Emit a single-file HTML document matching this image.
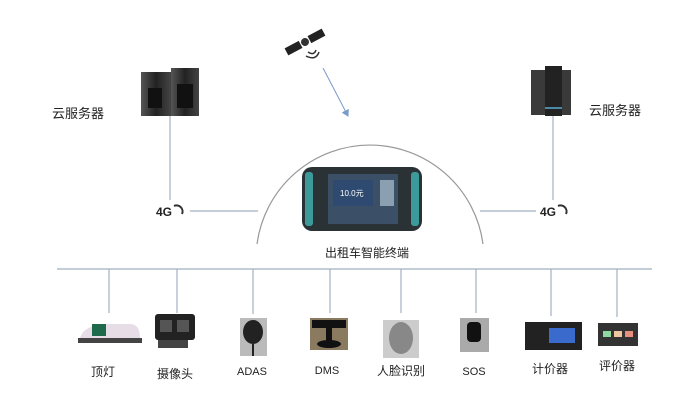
<!DOCTYPE html>
<html><head><meta charset="utf-8"><style>
html,body{margin:0;padding:0;background:#fff;}
svg{display:block;}
text{font-family:"Liberation Sans","Noto Sans CJK SC",sans-serif;fill:#222;}
</style></head><body>
<svg width="677" height="417" viewBox="0 0 677 417" xmlns="http://www.w3.org/2000/svg">
<defs>
<linearGradient id="srv" x1="0" x2="1"><stop offset="0" stop-color="#555"/><stop offset="0.5" stop-color="#222"/><stop offset="1" stop-color="#444"/></linearGradient>
<marker id="ar" markerWidth="8" markerHeight="8" refX="6" refY="4" orient="auto"><path d="M0,0 L7,4 L0,8 z" fill="#7a9cc8"/></marker>
</defs>
<!-- connector lines -->
<g stroke="#9fb0c0" stroke-width="1.2" fill="none">
<line x1="170" y1="116" x2="170" y2="200"/>
<line x1="190" y1="211" x2="258" y2="211"/>
<line x1="553" y1="115" x2="553" y2="200"/>
<line x1="480" y1="211" x2="536" y2="211"/>
<line x1="57" y1="269" x2="652" y2="269"/>
<line x1="109" y1="269" x2="109" y2="313"/>
<line x1="177" y1="269" x2="177" y2="313"/>
<line x1="253" y1="269" x2="253" y2="314"/>
<line x1="330" y1="269" x2="330" y2="313"/>
<line x1="401" y1="269" x2="401" y2="313"/>
<line x1="476" y1="269" x2="476" y2="313"/>
<line x1="551" y1="269" x2="551" y2="316"/>
<line x1="617" y1="269" x2="617" y2="317"/>
</g>
<path d="M257,244 A114,114 0 0 1 483,244" stroke="#999" stroke-width="1.2" fill="none"/>
<line x1="323" y1="68" x2="348" y2="116" stroke="#7a9cc8" stroke-width="1" marker-end="url(#ar)"/>
<!-- satellite -->
<g transform="rotate(-28 305 42)">
<rect x="284" y="38" width="16" height="8" fill="#222"/>
<rect x="310" y="38" width="16" height="8" fill="#222"/>
<circle cx="305" cy="42" r="4" fill="#333"/>
</g>
<path d="M308,52 q6,4 8,-2 M306,56 q10,5 13,-4" stroke="#333" stroke-width="1.5" fill="none"/>
<!-- left servers -->
<rect x="141" y="72" width="30" height="44" fill="url(#srv)"/>
<rect x="171" y="68" width="28" height="48" fill="url(#srv)"/>
<rect x="177" y="84" width="16" height="24" fill="#111"/>
<rect x="148" y="88" width="14" height="20" fill="#111"/>
<!-- right servers -->
<rect x="531" y="70" width="40" height="45" fill="#3a3a3a"/>
<rect x="545" y="66" width="17" height="50" fill="#222"/>
<line x1="545" y1="108" x2="562" y2="108" stroke="#4a8aa8" stroke-width="2"/>
<!-- 4G labels -->
<text x="156" y="216" font-size="12" font-weight="bold" fill="#222">4G</text>
<path d="M174,206 a6,6 0 0 1 8,8" stroke="#333" stroke-width="2" fill="none"/>
<text x="540" y="216" font-size="12" font-weight="bold" fill="#222">4G</text>
<path d="M558,206 a6,6 0 0 1 8,8" stroke="#333" stroke-width="2" fill="none"/>
<text x="52" y="118" font-size="13">云服务器</text>
<text x="589" y="115" font-size="13">云服务器</text>
<!-- device -->
<rect x="302" y="167" width="120" height="64" rx="10" fill="#2a3236"/>
<rect x="305" y="172" width="8" height="54" rx="3" fill="#3d9a9a"/>
<rect x="411" y="172" width="8" height="54" rx="3" fill="#3d9a9a"/>
<rect x="328" y="174" width="70" height="50" fill="#3b4f66"/>
<rect x="333" y="180" width="40" height="26" fill="#2f4a70"/>
<text x="340" y="196" font-size="8" fill="#fff" style="fill:#fff">10.0元</text>
<rect x="380" y="180" width="14" height="26" fill="#8aa0b0"/>
<text x="325" y="257" font-size="12">出租车智能终端</text>
<!-- bottom devices -->
<path d="M80,338 q4,-14 30,-14 h20 q10,0 10,14 z" fill="#e6dde6"/>
<rect x="92" y="324" width="14" height="12" fill="#1f6a4a"/>
<rect x="78" y="338" width="64" height="5" fill="#444"/>
<rect x="155" y="314" width="40" height="26" rx="3" fill="#222"/>
<rect x="160" y="320" width="12" height="12" fill="#555"/><rect x="177" y="320" width="12" height="12" fill="#555"/>
<rect x="158" y="340" width="30" height="8" fill="#444"/>
<rect x="240" y="318" width="27" height="38" fill="#bbb"/>
<ellipse cx="253" cy="332" rx="10" ry="12" fill="#222"/><line x1="253" y1="344" x2="253" y2="356" stroke="#222" stroke-width="2"/>
<rect x="310" y="318" width="38" height="32" fill="#8a7a60"/>
<rect x="312" y="320" width="34" height="8" fill="#111"/><rect x="326" y="326" width="6" height="16" fill="#111"/>
<ellipse cx="329" cy="344" rx="12" ry="4" fill="#111"/>
<rect x="383" y="320" width="36" height="38" fill="#ccc"/>
<ellipse cx="401" cy="338" rx="12" ry="16" fill="#888"/>
<rect x="460" y="318" width="29" height="34" fill="#aaa"/>
<rect x="467" y="322" width="14" height="20" rx="4" fill="#111"/>
<rect x="525" y="322" width="57" height="28" fill="#222"/>
<rect x="549" y="328" width="26" height="15" fill="#3a6acc"/>
<rect x="598" y="323" width="40" height="23" fill="#333"/>
<rect x="603" y="331" width="8" height="6" fill="#8fd8a0"/><rect x="614" y="331" width="8" height="6" fill="#f0c8a0"/><rect x="625" y="331" width="8" height="6" fill="#e89080"/>
<g font-size="12">
<text x="103" y="376" text-anchor="middle">顶灯</text>
<text x="175" y="378" text-anchor="middle">摄像头</text>
<text x="252" y="375" text-anchor="middle" font-size="11">ADAS</text>
<text x="327" y="374" text-anchor="middle" font-size="11">DMS</text>
<text x="401" y="375" text-anchor="middle">人脸识别</text>
<text x="474" y="375" text-anchor="middle" font-size="11">SOS</text>
<text x="550" y="373" text-anchor="middle">计价器</text>
<text x="617" y="370" text-anchor="middle">评价器</text>
</g>
</svg>
</body></html>
